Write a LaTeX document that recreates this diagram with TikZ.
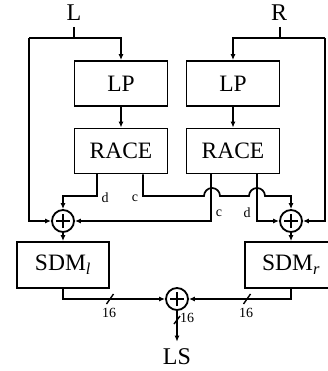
\documentclass[tikz,border=0pt]{standalone}
\usepackage{fontspec}
\setmainfont{Liberation Serif}
\usetikzlibrary{arrows.meta}
\begin{document}
\begin{tikzpicture}[x=1pt,y=-1pt,
  blk/.style={draw,line width=1.8pt,minimum width=93pt,minimum height=45pt,inner sep=0pt,font=\fontsize{23.5}{27}\selectfont},
  wire/.style={line width=1.7pt},
  arr/.style={wire,-{Latex[length=6pt,width=5pt]}},
  summ/.style={draw,circle,line width=1.8pt,minimum size=22pt,inner sep=0pt},
  lbl/.style={font=\fontsize{14}{16}\selectfont,inner sep=0pt},
  big/.style={font=\fontsize{24}{27}\selectfont,inner sep=0pt},
  tick/.style={line width=1.4pt}]
\useasboundingbox (0,0) rectangle (328,371);
\clip (0,0) rectangle (328,371);
% nodes
\node[big] (L) at (74,13) {L};
\node[big] (R) at (279,13) {R};
\node[blk] (lpl) at (121,83.5) {LP};
\node[blk] (lpr) at (233,83.5) {LP};
\node[blk] (racel) at (121,151) {RACE};
\node[blk] (racer) at (233,151) {RACE};
\node[summ] (sl) at (63,221) {};
\node[summ] (sr) at (291,221) {};
\node[blk,minimum width=92pt,minimum height=46pt] (sdml) at (63,265) {SDM\textsubscript{\itshape l}};
\node[blk,minimum width=92pt,minimum height=46pt] (sdmr) at (291,265) {SDM\textsubscript{\itshape r}};
\node[summ] (sb) at (177,299) {};
\node[big] (LS) at (177,357) {LS};
% plus signs
\foreach \s in {sl,sr,sb}
  \draw[wire] ([xshift=-7pt]\s.center) -- ([xshift=7pt]\s.center)
              ([yshift=-7pt]\s.center) -- ([yshift=7pt]\s.center);
% inputs
\coordinate (lst) at (74,27);
\coordinate (ljn) at (74,38);
\coordinate (lc) at (29,38);
\coordinate (rst) at (280,27);
\coordinate (rjn) at (280,38);
\coordinate (rc) at (325,38);
\draw[wire] (lst) -- (ljn);
\draw[arr] (lc) -| (lpl.north);
\draw[arr] (lc) |- (sl.west);
\draw[wire] (rst) -- (rjn);
\draw[arr] (rc) -| (lpr.north);
\draw[arr] (rc) |- (sr.east);
% LP -> RACE
\draw[arr] (lpl) -- (racel);
\draw[arr] (lpr) -- (racer);
% RACE outputs
\draw[arr] ([xshift=-24pt]racel.south) |- (63,196) -- (sl.north);
\draw[arr] ([xshift=22pt]racel.south) |- (204,196)
   arc[start angle=180,end angle=360,radius=8] -- (249,196)
   arc[start angle=180,end angle=360,radius=8] -| (sr.north);
\draw[arr] ([xshift=-22pt]racer.south) |- (sl.east);
\draw[arr] ([xshift=24pt]racer.south) |- (sr.west);
\node[lbl] (ld1) at (105,198) {d};
\node[lbl] (lc1) at (135,198) {c};
\node[lbl] (lc2) at (219,213) {c};
\node[lbl] (ld2) at (247,213) {d};
% sums -> SDM
\draw[arr] (sl) -- (sdml);
\draw[arr] (sr) -- (sdmr);
% SDM -> bottom sum
\draw[arr] (sdml.south) |- (sb.west);
\draw[arr] (sdmr.south) |- (sb.east);
\draw[arr] (sb) -- ([yshift=7pt]LS.north);
% bus width ticks
\draw[tick] (106.5,304) -- (113.5,294);
\draw[tick] (243.5,304) -- (250.5,294);
\draw[tick] (174,324) -- (180,316);
\node[lbl] (w1) at (109,313) {16};
\node[lbl] (w2) at (246,313) {16};
\node[lbl,anchor=west] (w3) at (180,318) {16};
\end{tikzpicture}
\end{document}
